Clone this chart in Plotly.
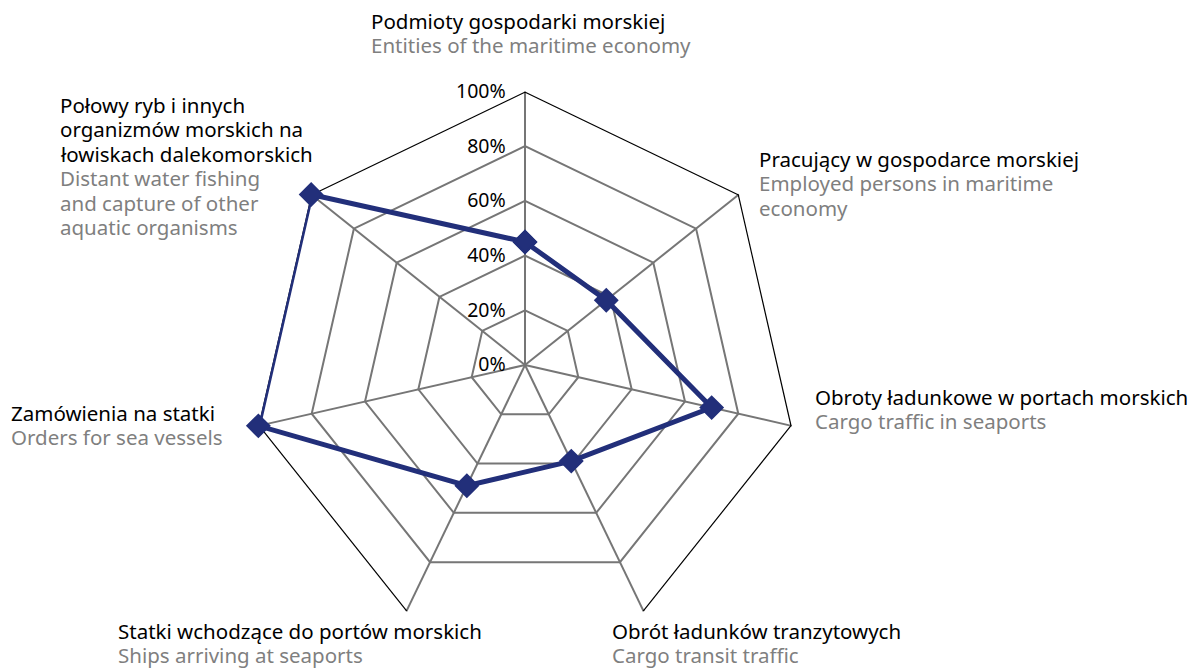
import plotly.graph_objects as go

# ---- data ----
categories_pl = [
    "Podmioty gospodarki morskiej",
    "Pracujący w gospodarce morskiej",
    "Obroty ładunkowe w portach morskich",
    "Obrót ładunków tranzytowych",
    "Statki wchodzące do portów morskich",
    "Zamówienia na statki",
    "Połowy ryb i innych organizmów morskich na łowiskach dalekomorskich",
]
categories_en = [
    "Entities of the maritime economy",
    "Employed persons in maritime economy",
    "Cargo traffic in seaports",
    "Cargo transit traffic",
    "Ships arriving at seaports",
    "Orders for sea vessels",
    "Distant water fishing and capture of other aquatic organisms",
]
values = [45, 38, 70, 39, 49, 100, 100]
radial_ticks = [0, 20, 40, 60, 80, 100]
radial_ticklabels = ["0%", "20%", "40%", "60%", "80%", "100%"]

# label layout (wrapped lines as in the reference)
label_lines_pl = [
    ["Podmioty gospodarki morskiej"],
    ["Pracujący w gospodarce morskiej"],
    ["Obroty ładunkowe w portach morskich"],
    ["Obrót ładunków tranzytowych"],
    ["Statki wchodzące do portów morskich"],
    ["Zamówienia na statki"],
    ["Połowy ryb i innych", "organizmów morskich na", "łowiskach dalekomorskich"],
]
label_lines_en = [
    ["Entities of the maritime economy"],
    ["Employed persons in maritime", "economy"],
    ["Cargo traffic in seaports"],
    ["Cargo transit traffic"],
    ["Ships arriving at seaports"],
    ["Orders for sea vessels"],
    ["Distant water fishing", "and capture of other", "aquatic organisms"],
]
# left x and first-line centre y (pixels) of each label block
label_x_px = [370, 758, 814, 611, 117, 10, 59]
label_y0_px = [21, 159, 397, 631, 631, 413, 105]
LINE_STEP = 24.4

W, H = 1192, 669
CX, CY, R = 525, 365, 273.5
FONT = "Noto Sans, sans-serif"
FS = 20.5
TICK_FS = 19.5
NAVY = "#222f7a"
GRAY_TXT = "#7f7f7f"
GRID = "#767676"

fig = go.Figure()

# black outer frame (all edges except the bottom one, which stays grey)
rmax = radial_ticks[-1]
frame_order = [4, 5, 6, 0, 1, 2, 3]
fig.add_trace(go.Scatterpolar(
    r=[rmax] * len(frame_order),
    theta=[categories_pl[i] for i in frame_order],
    mode="lines", line=dict(color="black", width=2.4),
    showlegend=False, hoverinfo="skip", cliponaxis=False,
))

theta = categories_pl + [categories_pl[0]]
r = values + [values[0]]
fig.add_trace(go.Scatterpolar(
    r=r, theta=theta, mode="lines+markers",
    line=dict(color=NAVY, width=5),
    marker=dict(symbol="diamond", size=17, color=NAVY,
                line=dict(color=NAVY, width=2)),
    cliponaxis=False, showlegend=False, hoverinfo="skip",
))

annotations = []
for i in range(len(categories_pl)):
    lines = [(l, "black") for l in label_lines_pl[i]] + \
            [(l, GRAY_TXT) for l in label_lines_en[i]]
    for k, (txt, col) in enumerate(lines):
        annotations.append(dict(
            text=txt, xref="paper", yref="paper",
            x=label_x_px[i] / W,
            y=1 - (label_y0_px[i] + k * LINE_STEP) / H,
            xanchor="left", yanchor="middle", align="left",
            showarrow=False, borderpad=0,
            font=dict(family=FONT, size=FS, color=col),
        ))

fig.update_layout(
    width=W, height=H,
    margin=dict(l=0, r=0, t=0, b=0),
    paper_bgcolor="white", plot_bgcolor="white",
    font=dict(family=FONT, size=FS, color="black"),
    polar=dict(
        domain=dict(x=[(CX - R) / W, (CX + R) / W],
                    y=[(H - CY - R) / H, (H - CY + R) / H]),
        bgcolor="white",
        gridshape="linear",
        radialaxis=dict(
            range=[0, rmax], tickvals=radial_ticks, ticktext=radial_ticklabels,
            angle=90, tickangle=90, side="counterclockwise",
            showline=False, ticks="outside", ticklen=12,
            tickcolor="rgba(0,0,0,0)", showgrid=True,
            gridcolor=GRID, gridwidth=1.6,
            tickfont=dict(family=FONT, size=TICK_FS, color="black"),
        ),
        angularaxis=dict(
            type="category",
            categoryorder="array", categoryarray=categories_pl,
            rotation=90, direction="clockwise",
            showticklabels=False, ticks="",
            showline=False,
            gridcolor=GRID, gridwidth=1.6,
        ),
    ),
    annotations=annotations,
)

fig.write_html("out.html", config={"displayModeBar": False},
               post_script="document.body.style.margin='0px';")
